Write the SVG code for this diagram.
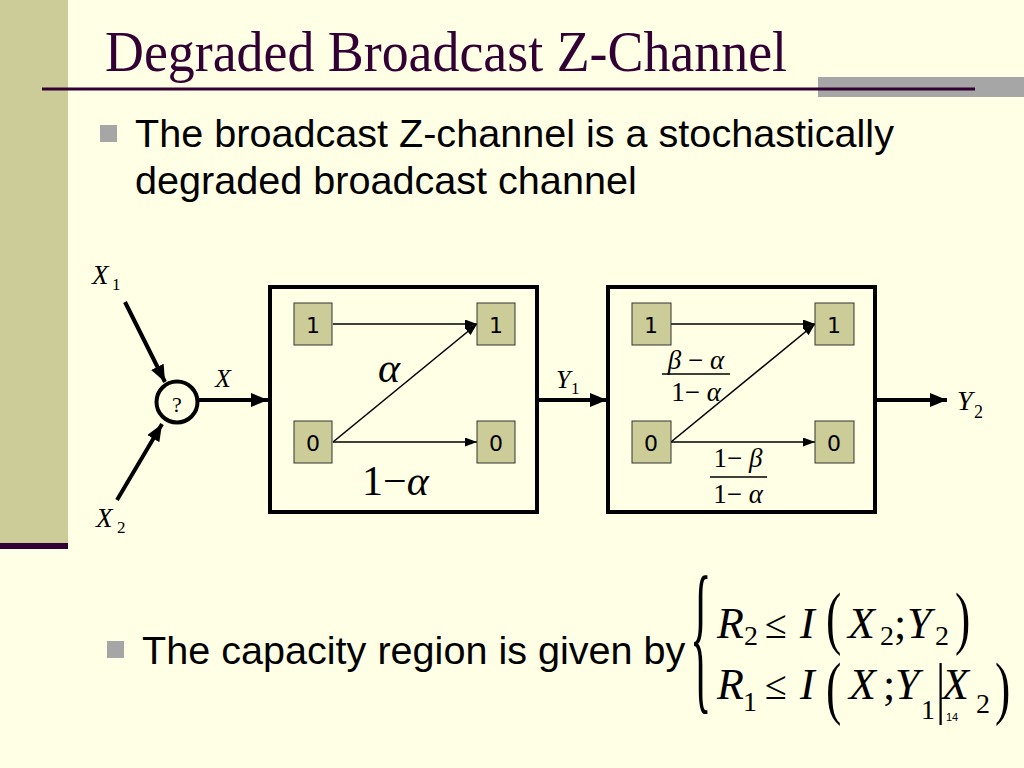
<svg xmlns="http://www.w3.org/2000/svg" width="1024" height="768" viewBox="0 0 1024 768">
<defs>
<style>
.m{font-family:"Liberation Serif","Times New Roman",serif;fill:#000}
.i{font-style:italic}
.s{font-family:"Liberation Sans",Arial,sans-serif;fill:#000}
.d{font-family:"DejaVu Sans",Verdana,sans-serif;font-size:22px;fill:#000;text-anchor:middle}
.thick{stroke:#000;stroke-width:4;fill:none}
.thin{stroke:#000;stroke-width:1.6;fill:none}
.box{fill:none;stroke:#000;stroke-width:4}
.sq{fill:#CCCC99;stroke:#333;stroke-width:1}
</style>
<marker id="ah" markerUnits="userSpaceOnUse" markerWidth="17" markerHeight="14" refX="17" refY="7" orient="auto">
<path d="M0,0 L17,7 L0,14 z" fill="#000"/>
</marker>
<marker id="ahs" markerUnits="userSpaceOnUse" markerWidth="12" markerHeight="9" refX="12" refY="4.5" orient="auto">
<path d="M0,0 L12,4.5 L0,9 z" fill="#000"/>
</marker>
</defs>
<rect x="0" y="0" width="1024" height="768" fill="#FFFFE5"/>
<rect x="0" y="0" width="68" height="544" fill="#CCCC99"/>
<rect x="0" y="543" width="68" height="6" fill="#330033"/>
<rect x="818" y="77" width="206" height="20" fill="#A6A6A6"/>
<rect x="42" y="87.5" width="933" height="3" fill="#330033"/>
<text x="105" y="71" font-family="Liberation Serif,Times New Roman,serif" font-size="58" fill="#330033" textLength="682" lengthAdjust="spacingAndGlyphs">Degraded Broadcast Z-Channel</text>

<rect x="100" y="125" width="17" height="17" fill="#A6A6A6"/>
<text class="s" x="135" y="147" font-size="39.6">The broadcast Z-channel is a stochastically</text>
<text class="s" x="135" y="194" font-size="39.6">degraded broadcast channel</text>
<rect x="107" y="641" width="17" height="17" fill="#A6A6A6"/>
<text class="s" x="142" y="664" font-size="39.6">The capacity region is given by</text>

<g id="connectors">
<line class="thick" x1="125" y1="302" x2="165" y2="382" marker-end="url(#ah)"/>
<line class="thick" x1="117" y1="500" x2="162" y2="424" marker-end="url(#ah)"/>
<line class="thick" x1="198" y1="400" x2="268" y2="400" marker-end="url(#ah)"/>
<line class="thick" x1="538" y1="400" x2="607" y2="400" marker-end="url(#ah)"/>
<line class="thick" x1="877" y1="400" x2="947" y2="400" marker-end="url(#ah)"/>
<line class="thin" x1="333" y1="324" x2="477" y2="324" marker-end="url(#ahs)"/>
<line class="thin" x1="333" y1="442" x2="477" y2="442" marker-end="url(#ahs)"/>
<line class="thin" x1="333" y1="442" x2="477" y2="324" marker-end="url(#ahs)"/>
<line class="thin" x1="671" y1="324" x2="815" y2="324" marker-end="url(#ahs)"/>
<line class="thin" x1="671" y1="442" x2="815" y2="442" marker-end="url(#ahs)"/>
<line class="thin" x1="671" y1="442" x2="815" y2="324" marker-end="url(#ahs)"/>
</g>

<g id="labels">
<text class="m i" x="92" y="284" font-size="27">X</text>
<text class="m" x="112" y="290" font-size="17">1</text>
<text class="m i" x="96" y="527" font-size="27">X</text>
<text class="m" x="117" y="533" font-size="17">2</text>
<text class="m i" x="215" y="387" font-size="26">X</text>
<text class="m i" x="556" y="388" font-size="26">Y</text>
<text class="m" x="571" y="394" font-size="17">1</text>
<text class="m i" x="957" y="410" font-size="28">Y</text>
<text class="m" x="974" y="418" font-size="18">2</text>
</g>

<g id="node-combiner">
<circle cx="177" cy="402" r="20.5" fill="#FFFFE5" stroke="#000" stroke-width="4"/>
<text class="m" x="177" y="412" font-size="22" text-anchor="middle">?</text>
</g>

<g id="node-channel1">
<rect class="box" x="270" y="287" width="267" height="225"/>
<rect class="sq" x="294" y="303" width="38" height="42"/>
<text class="d" x="313" y="333">1</text>
<rect class="sq" x="477" y="303" width="38" height="42"/>
<text class="d" x="496" y="333">1</text>
<rect class="sq" x="294" y="421" width="38" height="42"/>
<text class="d" x="313" y="451">0</text>
<rect class="sq" x="477" y="421" width="38" height="42"/>
<text class="d" x="496" y="451">0</text>
<text class="m i" x="378" y="382" font-size="42">α</text>
<text class="m" x="362" y="495" font-size="42">1−<tspan class="i">α</tspan></text>
</g>

<g id="node-channel2">
<rect class="box" x="608" y="287" width="267" height="225"/>
<rect class="sq" x="632" y="303" width="39" height="42"/>
<text class="d" x="651" y="333">1</text>
<rect class="sq" x="815" y="303" width="39" height="42"/>
<text class="d" x="834" y="333">1</text>
<rect class="sq" x="632" y="421" width="39" height="42"/>
<text class="d" x="651" y="451">0</text>
<rect class="sq" x="815" y="421" width="39" height="42"/>
<text class="d" x="834" y="451">0</text>
<text class="m" x="696" y="369" font-size="27" text-anchor="middle"><tspan class="i">β</tspan> − <tspan class="i">α</tspan></text>
<line x1="662" y1="374" x2="730" y2="374" stroke="#000" stroke-width="1.5"/>
<text class="m" x="696" y="401" font-size="27" text-anchor="middle">1− <tspan class="i">α</tspan></text>
<text class="m" x="738" y="467" font-size="27" text-anchor="middle">1− <tspan class="i">β</tspan></text>
<line x1="710" y1="477" x2="767" y2="477" stroke="#000" stroke-width="1.5"/>
<text class="m" x="738" y="503" font-size="27" text-anchor="middle">1− <tspan class="i">α</tspan></text>
</g>

<g id="formula">
<text class="m" font-size="56" transform="translate(690,691.7) scale(0.8,3)">{</text>
<text class="m i" x="717" y="638" font-size="44">R</text>
<text class="m" x="744" y="645" font-size="28">2</text>
<text class="m" x="765" y="638" font-size="40">≤</text>
<text class="m i" x="800" y="638" font-size="44">I</text>
<text class="m" font-size="46" transform="translate(826,640.6) scale(1,1.53)">(</text>
<text class="m i" x="848" y="638" font-size="44">X</text>
<text class="m" x="880" y="645" font-size="28">2</text>
<text class="m" x="894" y="638" font-size="44">;</text>
<text class="m i" x="907" y="638" font-size="44">Y</text>
<text class="m" x="935" y="645" font-size="28">2</text>
<text class="m" font-size="46" transform="translate(955,640.6) scale(1,1.53)">)</text>

<text class="m i" x="717" y="699" font-size="44">R</text>
<text class="m" x="743" y="711" font-size="28">1</text>
<text class="m" x="765" y="699" font-size="40">≤</text>
<text class="m i" x="800" y="699" font-size="44">I</text>
<text class="m" font-size="46" transform="translate(826,710.6) scale(1,1.53)">(</text>
<text class="m i" x="849" y="699" font-size="44">X</text>
<text class="m" x="883" y="699" font-size="44">;</text>
<text class="m i" x="895" y="699" font-size="44">Y</text>
<text class="m" x="921" y="719" font-size="28">1</text>
<text class="m" font-size="46" transform="translate(936,710.6) scale(1,1.45)">|</text>
<text class="m i" x="942" y="699" font-size="44">X</text>
<text class="m" x="976" y="713" font-size="28">2</text>
<text class="m" font-size="46" transform="translate(995,710.6) scale(1,1.53)">)</text>
<text class="s" x="946" y="721" font-size="11">14</text>
</g>
</svg>
